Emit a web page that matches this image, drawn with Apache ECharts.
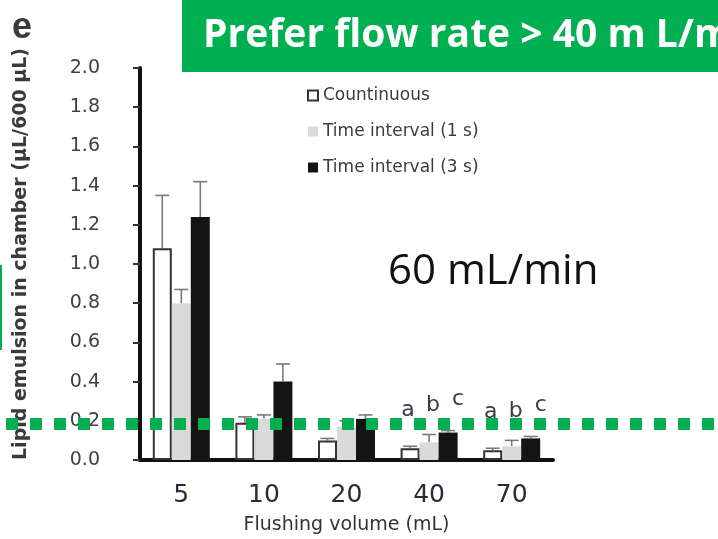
<!DOCTYPE html>
<html>
<head>
<meta charset="utf-8">
<script src="https://cdn.jsdelivr.net/npm/echarts@6/dist/echarts.min.js"></script>
<style>
  html, body { margin: 0; padding: 0; background: #ffffff; }
  #chart { width: 718px; height: 539px; }
</style>
</head>
<body>
<div id="chart"></div>
<script>
// Flushing volumes (mL)
const categories = ['5', '10', '20', '40', '70'];

// Mean lipid emulsion remaining in chamber (μL/600 μL) and upper error (SD)
const continuous    = [1.08, 0.19, 0.10, 0.06, 0.05];
const continuousErr = [0.27, 0.03, 0.01, 0.01, 0.01];
const interval1     = [0.80, 0.21, 0.17, 0.09, 0.07];
const interval1Err  = [0.07, 0.02, 0.03, 0.04, 0.03];
const interval3     = [1.24, 0.40, 0.21, 0.14, 0.11];
const interval3Err  = [0.18, 0.09, 0.02, 0.01, 0.01];

// Significance letters shown over the 40 and 70 mL groups
const lettersContinuous = ['', '', '', 'a', 'a'];
const lettersInterval1  = ['', '', '', 'b', 'b'];
const lettersInterval3  = ['', '', '', 'c', 'c'];

const seriesNames = ['Countinuous', 'Time interval (1 s)', 'Time interval (3 s)'];

const chartFont = 'DejaVu Sans';
const chart = echarts.init(document.getElementById('chart'), null, { renderer: 'canvas' });

const barW = 19;

// Upper whisker with a cap, centred on the bar of the given series slot
function errorSeries(values, errs, slot) {
  return {
    type: 'custom',
    z: 1,
    silent: true,
    data: values.map((v, i) => [i, v, v + errs[i]]),
    renderItem: function (params, api) {
      const ci = api.value(0);
      const base = api.coord([ci, api.value(1)]);
      const top = api.coord([ci, api.value(2)]);
      const x = base[0] + (slot - 1) * barW;
      const cap = 7;
      const style = { stroke: '#7a7a7a', lineWidth: 1.6 };
      return {
        type: 'group',
        children: [
          { type: 'line', shape: { x1: x, y1: base[1], x2: x, y2: top[1] }, style },
          { type: 'line', shape: { x1: x - cap, y1: top[1], x2: x + cap, y2: top[1] }, style }
        ]
      };
    }
  };
}

// Letter placed above the whisker of a bar
function letterSeries(values, errs, marks, slot, dy) {
  return {
    type: 'custom',
    z: 5,
    silent: true,
    data: values.map((v, i) => [i, v + errs[i]]),
    renderItem: function (params, api) {
      const text = marks[params.dataIndex];
      if (!text) return null;
      const p = api.coord([api.value(0), api.value(1)]);
      return {
        type: 'text',
        style: {
          text: text,
          x: p[0] + (slot - 1) * 25 + 4,
          y: p[1] - dy,
          fill: '#3a3a48',
          font: '22px "' + chartFont + '"',
          align: 'center',
          verticalAlign: 'bottom'
        }
      };
    }
  };
}

const option = {
  animation: false,
  backgroundColor: '#ffffff',
  grid: { left: 140, right: 165, top: 68, bottom: 79, containLabel: false, outerBoundsMode: 'none' },
  legend: {
    orient: 'vertical',
    left: 302,
    top: 82,
    itemWidth: 10,
    itemHeight: 10,
    itemGap: 19,
    icon: 'rect',
    textStyle: { fontFamily: chartFont, fontSize: 17, color: '#3c3c3c' },
    data: seriesNames
  },
  xAxis: {
    type: 'category',
    data: categories,
    axisLine: { lineStyle: { color: '#111', width: 4 } },
    axisTick: { show: false },
    axisLabel: { fontFamily: chartFont, fontSize: 25, color: '#2a2a3a', margin: 23 },
    name: 'Flushing volume (mL)',
    nameLocation: 'middle',
    nameGap: 56,
    nameTextStyle: { fontFamily: chartFont, fontSize: 19, color: '#333' }
  },
  yAxis: {
    type: 'value',
    min: 0,
    max: 2.0,
    interval: 0.2,
    splitLine: { show: false },
    axisLine: { show: true, lineStyle: { color: '#111', width: 4 } },
    axisTick: { show: true, inside: false, length: 7, lineStyle: { color: '#333', width: 2 } },
    axisLabel: {
      fontFamily: chartFont, fontSize: 19, color: '#404040', margin: 40,
      formatter: v => v.toFixed(1)
    },
    name: 'Lipid emulsion in chamber (μL/600 μL)',
    nameLocation: 'middle',
    nameGap: 109,
    nameTextStyle: { fontFamily: chartFont, fontSize: 19, fontWeight: 'bold', color: '#3a3a3a', padding: [0, 0, 0, 20] }
  },
  series: [
    {
      name: seriesNames[0], type: 'bar', data: continuous, barWidth: barW, barGap: '0%', z: 2,
      itemStyle: { color: '#ffffff', borderColor: '#333', borderWidth: 2 }
    },
    {
      name: seriesNames[1], type: 'bar', data: interval1, barWidth: barW, barGap: '0%', z: 2,
      itemStyle: { color: '#dadada', borderColor: '#dadada', borderWidth: 0 }
    },
    {
      name: seriesNames[2], type: 'bar', data: interval3, barWidth: barW, barGap: '0%', z: 2,
      itemStyle: { color: '#141414', borderColor: '#141414', borderWidth: 0 }
    },
    errorSeries(continuous, continuousErr, 0),
    errorSeries(interval1, interval1Err, 1),
    errorSeries(interval3, interval3Err, 2),
    letterSeries(continuous, continuousErr, lettersContinuous, 0, 25),
    letterSeries(interval1, interval1Err, lettersInterval1, 1, 18),
    letterSeries(interval3, interval3Err, lettersInterval3, 2, 20)
  ],
  graphic: [
    { type: 'text', left: 12, top: 10, style: { text: 'e', font: 'bold 36px "Liberation Sans"', fill: '#3a3a3a' } },
    { type: 'rect', shape: { x: 182, y: 0, width: 540, height: 72 }, style: { fill: '#00b050' }, z: 10 },
    {
      type: 'text', z: 11,
      style: { text: 'Prefer flow rate > 40 m L/min', x: 203, y: 36, verticalAlign: 'middle',
        font: 'bold 39px "Open Sans"', fill: '#ffffff' }
    },
    { type: 'text', z: 11, style: { text: '60 mL/min', x: 388, y: 272, verticalAlign: 'middle',
        font: '42px "Open Sans"', fill: '#111111' } },
    { type: 'line', z: 12, shape: { x1: 1, y1: 265, x2: 1, y2: 350 }, style: { stroke: '#00b050', lineWidth: 2 } },
    { type: 'line', z: 12, shape: { x1: 6, y1: 424, x2: 718, y2: 424 },
      style: { stroke: '#00b050', lineWidth: 12, lineDash: [12, 12] } }
  ]
};

chart.setOption(option);
</script>
</body>
</html>
